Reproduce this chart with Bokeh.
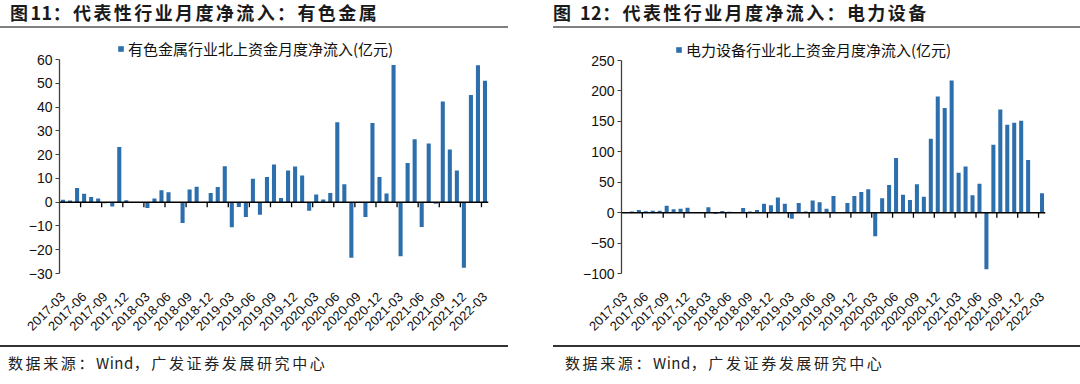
import math
import pandas as pd
from bokeh.plotting import figure
from bokeh.layouts import row, column
from bokeh.models import (Range1d, FixedTicker, Span, Div, ColumnDataSource)
from bokeh.embed import file_html
from bokeh.resources import INLINE

# ---------------- data ----------------
months = [str(p) for p in pd.period_range("2017-03", "2022-03", freq="M")]

tick_labels = ["2017-03", "2017-06", "2017-09", "2017-12", "2018-03", "2018-06", "2018-09",
               "2018-12", "2019-03", "2019-06", "2019-09", "2019-12", "2020-03", "2020-06",
               "2020-09", "2020-12", "2021-03", "2021-06", "2021-09", "2021-12", "2022-03"]

metals = [1.0, 0.7, 6.0, 3.5, 2.2, 1.5, -0.5, -1.8, 23.2, 0.8,
          0.0, -0.3, -2.5, 1.5, 5.0, 4.2, 0.0, -8.8, 5.3, 6.5,
          0.0, 3.9, 6.4, 15.1, -10.6, -2.0, -6.2, 9.8, -5.3, 10.6,
          15.8, 1.7, 13.3, 15.0, 11.2, -3.6, 3.2, 1.1, 3.9, 33.6,
          7.5, -23.4, 0.0, -6.2, 33.3, 10.6, 3.6, 57.7, -22.7, 16.5,
          26.5, -10.4, 24.7, -0.7, 42.3, 22.1, 13.3, -27.6, 45.1, 57.6,
          51.1]

power = [1.0, 2.0, 4.4, 2.2, 3.3, 3.3, 11.5, 5.5, 6.6, 8.2,
         0.0, 0.0, 8.8, -2.0, 2.7, 1.6, 0.0, 7.7, 2.0, 4.4,
         14.5, 12.3, 25.0, 14.5, -10.0, 15.9, 2.0, 19.8, 17.0, 6.6,
         27.4, 0.0, 15.9, 27.4, 34.0, 38.5, -38.8, 23.7, 45.4, 89.7,
         29.5, 20.8, 46.5, 26.3, 121.4, 190.9, 171.8, 217.2, 65.6, 76.0,
         28.4, 47.6, -93.0, 111.6, 169.6, 144.4, 147.7, 151.0, 86.4, 0.0,
         31.7]

titles = ["图11：代表性行业月度净流入：有色金属", "图 12：代表性行业月度净流入：电力设备"]
legends = ["有色金属行业北上资金月度净流入(亿元)", "电力设备行业北上资金月度净流入(亿元)"]
source_text = "数据来源：Wind，广发证券发展研究中心"

BAR = "#2C6FAC"
CJK = "Noto Sans CJK SC"
LAT = "Liberation Sans"
W = 540
HEAD_H, CHART_H, FOOT_H = 36, 302, 46


def tight_latin(text):
    # keep latin runs (digits / words) without extra letter spacing
    out, buf = [], ""
    for ch in text:
        if ch.isascii() and ch.isalnum():
            buf += ch
        else:
            if buf:
                out.append(f'<span style="letter-spacing:0.5px">{buf}</span>')
                buf = ""
            out.append(ch)
    if buf:
        out.append(f'<span style="letter-spacing:0.5px">{buf}</span>')
    return "".join(out)


def header(title, tx, lx0, lw):
    html = (
        f'<div style="position:relative;width:{W}px;height:{HEAD_H}px;margin:0;padding:0;">'
        f'<div style="position:absolute;left:{tx}px;top:3px;white-space:nowrap;'
        f'font-family:\'{CJK}\';font-size:18px;line-height:18px;font-weight:bold;'
        f'letter-spacing:2.4px;color:#1a1a1a;">{tight_latin(title)}</div>'
        f'<div style="position:absolute;left:{lx0}px;top:26px;width:{lw}px;height:1.6px;'
        f'background:#808080;"></div></div>'
    )
    return Div(text=html, width=W, height=HEAD_H, margin=0)


def footer(sx, lx0, lw):
    html = (
        f'<div style="position:relative;width:{W}px;height:{FOOT_H}px;margin:0;padding:0;">'
        f'<div style="position:absolute;left:{lx0}px;top:7px;width:{lw}px;height:1.5px;'
        f'background:#333333;"></div>'
        f'<div style="position:absolute;left:{sx}px;top:17px;white-space:nowrap;'
        f'font-family:\'{CJK}\';font-size:15px;line-height:15px;letter-spacing:2.6px;'
        f'color:#222222;">{tight_latin(source_text)}</div></div>'
    )
    return Div(text=html, width=W, height=FOOT_H, margin=0)


def chart(vals, ymin, ymax, ystep, legend, fl, fr, axis_top_px, leg_x):
    top_b = 0
    bot_b = 65
    frame_h = CHART_H - top_b - bot_b
    axis_px = frame_h - axis_top_px
    yend = ymax + axis_top_px * (ymax - ymin) / axis_px
    p = figure(width=W, height=CHART_H, output_backend="svg", toolbar_location=None,
               x_range=Range1d(-0.5, len(vals) - 0.5), y_range=Range1d(ymin, yend),
               min_border_left=fl, min_border_right=fr, min_border_top=top_b,
               min_border_bottom=bot_b)
    p.outline_line_color = None
    p.xgrid.grid_line_color = None
    p.ygrid.grid_line_color = None

    src = ColumnDataSource(dict(x=list(range(len(vals))), v=vals))
    p.vbar(x="x", top="v", bottom=0, width=0.58, source=src, fill_color=BAR,
           line_color=None, legend_label=legend)

    p.add_layout(Span(location=0, dimension="width", line_color="#000000", line_width=1.5))
    bounds = [k - 0.5 for k in range(3, len(vals), 3)]
    p.ray(x=bounds, y=[0] * len(bounds), length=5, length_units="screen",
          angle=-math.pi / 2, line_color="#000000", line_width=1.3)

    ya = p.yaxis[0]
    ya.bounds = (ymin, ymax)
    ya.ticker = FixedTicker(ticks=list(range(ymin, ymax + 1, ystep)))
    ya.axis_line_color = "#404040"
    ya.axis_line_width = 1.3
    ya.major_tick_line_color = "#404040"
    ya.major_tick_out = 4
    ya.major_tick_in = 0
    ya.minor_tick_line_color = None
    ya.major_label_standoff = 3
    ya.major_label_text_font = LAT
    ya.major_label_text_font_size = "14px"
    ya.major_label_text_color = "#111111"

    xa = p.xaxis[0]
    pos = list(range(0, len(vals), 3))
    xa.ticker = FixedTicker(ticks=pos)
    xa.major_label_overrides = {k: lab for k, lab in zip(pos, tick_labels)}
    xa.axis_line_color = None
    xa.major_tick_line_color = None
    xa.minor_tick_line_color = None
    xa.major_label_orientation = math.pi / 4
    xa.major_label_standoff = 15
    xa.major_label_text_font = LAT
    xa.major_label_text_font_size = "13px"
    xa.major_label_text_color = "#111111"

    lg = p.legend[0]
    lg.location = (leg_x, axis_px)
    lg.border_line_color = None
    lg.background_fill_alpha = 0
    lg.padding = 0
    lg.margin = 0
    lg.glyph_width = 7
    lg.glyph_height = 7
    lg.label_height = 16
    lg.label_standoff = 4
    lg.label_text_font = CJK
    lg.label_text_font_size = "15px"
    lg.label_text_color = "#111111"
    return p


c1 = chart(metals, -30, 60, 10, legends[0], 59, 52, 23, 58)
c2 = chart(power, -100, 250, 50, legends[1], 81, 35, 24, 54)

left = column(header(titles[0], 10, 0, 508), c1, footer(8, 0, 508))
right = column(header(titles[1], 13, 13, 527), c2, footer(25, 13, 527))

layout = row(left, right)
open("out.html", "w").write(file_html(layout, INLINE))
